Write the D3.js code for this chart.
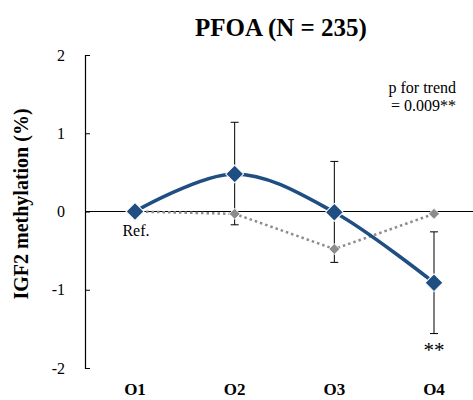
<!DOCTYPE html>
<html>
<head>
<meta charset="utf-8">
<script src="https://cdn.jsdelivr.net/npm/d3@7"></script>
<style>
  body { margin: 0; background: #fff; }
  text { font-family: "Liberation Serif", "Times New Roman", serif; }
</style>
</head>
<body>
<div id="chart"></div>
<script>
// data
const quartiles = ["O1", "O2", "O3", "O4"];
const adjusted = [0, 0.48, -0.01, -0.91];
const errLow = [null, -0.17, -0.65, -1.56];
const errHigh = [null, 1.14, 0.64, -0.26];
const crude = [0, -0.03, -0.48, -0.03];
const yTicks = [2, 1, 0, -1, -2];

const w = 473, h = 400;
const svg = d3.select("#chart").append("svg")
    .attr("width", w)
    .attr("height", h);

const xScale = d3.scalePoint()
    .domain(quartiles)
    .range([135, 434]);

const yScale = d3.scaleLinear()
    .domain([-2, 2])
    .range([368, 55]);

// title
svg.append("text")
    .attr("x", 281).attr("y", 36)
    .attr("text-anchor", "middle")
    .style("font-size", "25px").style("font-weight", "bold")
    .text("PFOA (N = 235)");

// y axis (ticks pointing inward)
const yAxis = d3.axisLeft(yScale)
    .tickValues(yTicks)
    .tickSizeInner(-5)
    .tickSizeOuter(-5)
    .tickPadding(20)
    .tickFormat(d => String(d));
const gy = svg.append("g")
    .attr("transform", "translate(85,0)")
    .call(yAxis);
gy.select(".domain").attr("stroke", "#000").attr("stroke-width", 1.2);
gy.selectAll(".tick line").attr("stroke", "#000");
gy.selectAll(".tick text")
    .style("font-size", "16px")
    .style("font-family", "Liberation Serif, serif")
    .attr("fill", "#000");

// zero line
svg.append("line")
    .attr("x1", 85).attr("x2", w)
    .attr("y1", yScale(0)).attr("y2", yScale(0))
    .attr("stroke", "#000").attr("stroke-width", 1);

// y label
svg.append("text")
    .attr("transform", "translate(28,204) rotate(-90)")
    .attr("text-anchor", "middle")
    .style("font-size", "20px").style("font-weight", "bold")
    .text("IGF2 methylation (%)");

// x labels
svg.selectAll(".xlab").data(quartiles).enter().append("text")
    .attr("class", "xlab")
    .attr("x", d => xScale(d))
    .attr("y", 395)
    .attr("text-anchor", "middle")
    .style("font-size", "17px").style("font-weight", "bold")
    .text(d => d);

// crude series, dotted gray
const line = d3.line()
    .x((d, i) => xScale(quartiles[i]))
    .y(d => yScale(d));
svg.append("path")
    .datum(crude)
    .attr("d", line)
    .attr("fill", "none")
    .attr("stroke", "#8c8c8c")
    .attr("stroke-width", 2.5)
    .attr("stroke-dasharray", "2.5,3");

// error bars
const eb = quartiles.map((q, i) => ({ q: q, lo: errLow[i], hi: errHigh[i] })).filter(d => d.lo !== null);
const ebG = svg.append("g").attr("stroke", "#000").attr("stroke-width", 1);
ebG.selectAll(".v").data(eb).enter().append("line")
    .attr("x1", d => xScale(d.q)).attr("x2", d => xScale(d.q))
    .attr("y1", d => yScale(d.lo)).attr("y2", d => yScale(d.hi));
ebG.selectAll(".cl").data(eb).enter().append("line")
    .attr("x1", d => xScale(d.q) - 4).attr("x2", d => xScale(d.q) + 4)
    .attr("y1", d => yScale(d.lo)).attr("y2", d => yScale(d.lo));
ebG.selectAll(".ch").data(eb).enter().append("line")
    .attr("x1", d => xScale(d.q) - 4).attr("x2", d => xScale(d.q) + 4)
    .attr("y1", d => yScale(d.hi)).attr("y2", d => yScale(d.hi));

// crude diamonds
const smallDiamond = d3.symbol().type(d3.symbolSquare).size(60);
svg.selectAll(".cd").data(crude).enter().append("path")
    .attr("d", smallDiamond)
    .attr("transform", (d, i) => "translate(" + xScale(quartiles[i]) + "," + yScale(d) + ") rotate(45)")
    .attr("fill", "#8c8c8c")
    .attr("stroke", "#fff").attr("stroke-width", 0.8);

// adjusted series, smooth blue
const smooth = d3.line()
    .x((d, i) => xScale(quartiles[i]))
    .y(d => yScale(d))
    .curve(d3.curveCardinal.tension(0));
svg.append("path")
    .datum(adjusted)
    .attr("d", smooth)
    .attr("fill", "none")
    .attr("stroke", "#1f4e82")
    .attr("stroke-width", 3.5);

const bigDiamond = d3.symbol().type(d3.symbolSquare).size(160);
svg.selectAll(".ad").data(adjusted).enter().append("path")
    .attr("d", bigDiamond)
    .attr("transform", (d, i) => "translate(" + xScale(quartiles[i]) + "," + yScale(d) + ") rotate(45)")
    .attr("fill", "#1f4e82")
    .attr("stroke", "#fff").attr("stroke-width", 1);

// annotations
svg.append("text")
    .attr("x", 136).attr("y", 236)
    .attr("text-anchor", "middle")
    .style("font-size", "16px")
    .text("Ref.");
svg.append("text")
    .attr("x", xScale("O4")).attr("y", 357)
    .attr("text-anchor", "middle")
    .style("font-size", "21px")
    .text("**");
svg.append("text")
    .attr("x", 456).attr("y", 93)
    .attr("text-anchor", "end")
    .style("font-size", "16px")
    .text("p for trend");
svg.append("text")
    .attr("x", 456).attr("y", 111)
    .attr("text-anchor", "end")
    .style("font-size", "16px")
    .text("= 0.009**");
</script>
</body>
</html>
